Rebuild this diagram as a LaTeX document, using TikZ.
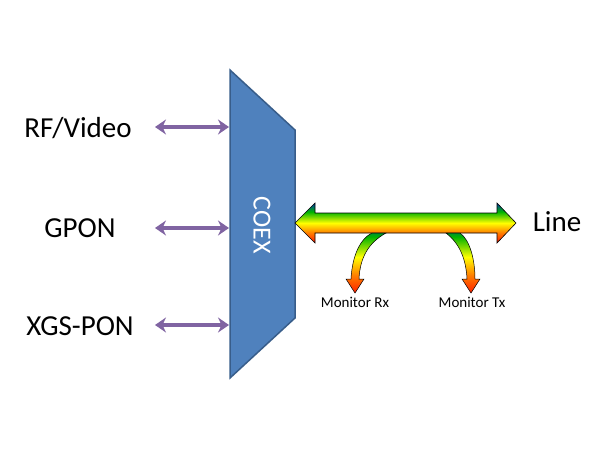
\documentclass[tikz,border=0pt]{standalone}
\usepackage{fontspec}
\setmainfont{Carlito}
\usetikzlibrary{arrows.meta}
\definecolor{coexblue}{HTML}{4F81BD}
\definecolor{coexedge}{HTML}{385D8A}
\definecolor{portpurple}{HTML}{8064A2}
\pgfdeclareverticalshading{rainbowv}{100bp}{color(0bp)=(red!85!black); color(22bp)=(red); color(38bp)=(orange); color(50bp)=(yellow); color(64bp)=(green!70!black); color(80bp)=(blue); color(100bp)=(blue!80!black)}
\pgfdeclareverticalshading{branchv}{100bp}{color(0bp)=(magenta); color(20bp)=(red); color(40bp)=(orange); color(55bp)=(yellow); color(72bp)=(green!70!black); color(88bp)=(blue); color(100bp)=(blue!70!black)}
\begin{document}
\begin{tikzpicture}[x=1pt,y=-1pt,
  lbl/.style={font=\fontsize{29}{32}\selectfont, text=black},
  mon/.style={font=\fontsize{15}{17}\selectfont, text=black},
  port/.style={portpurple, line width=4.5pt, {Stealth[length=11pt,width=15pt]}-{Stealth[length=11pt,width=15pt]}}]
\useasboundingbox (0,0) rectangle (610,450);
% COEX
\draw[fill=coexblue, draw=coexedge, line width=1.5pt] (230,70) -- (295,130) -- (295,318) -- (230,378) -- cycle;
\node[rotate=-90, text=white, font=\fontsize{26}{28}\selectfont] (coex) at (262,225) {COEX};
% labels
\node[lbl] (rf) at (78,128) {RF/Video};
\node[lbl] (gpon) at (80,228) {GPON};
\node[lbl] (xgs) at (80,326) {XGS-PON};
\coordinate (rfa) at (155,127); \coordinate (rfb) at (229,127);
\coordinate (ga) at (155,228); \coordinate (gb) at (229,228);
\coordinate (xa) at (155,325); \coordinate (xb) at (229,325);
\draw[port] (rfa) -- (rfb);
\draw[port] (ga) -- (gb);
\draw[port] (xa) -- (xb);
% rainbow line arrow
\draw[black, line width=0.6pt, shading=rainbowv]
  (295,223) -- (315,203) -- (315,213) -- (497,213) -- (497,203) -- (516,223)
  -- (497,243) -- (497,233) -- (315,233) -- (315,243) -- cycle;
% branches
\draw[black, line width=0.5pt, shading=branchv]
  (372,233) .. controls (358,240) and (352,260) .. (351,279) -- (346,279) -- (355,293) -- (364,279) -- (359,279)
  .. controls (360,258) and (368,243) .. (386,233) -- cycle;
\draw[black, line width=0.5pt, shading=branchv]
  (460,233) .. controls (470,240) and (475,260) .. (475,279) -- (480,279) -- (471,293) -- (462,279) -- (467,279)
  .. controls (466,258) and (459,243) .. (446,233) -- cycle;
\node[lbl] (line) at (557,222) {Line};
\node[mon] (mrx) at (355,302) {Monitor Rx};
\node[mon] (mtx) at (472,302) {Monitor Tx};
\end{tikzpicture}
\end{document}
